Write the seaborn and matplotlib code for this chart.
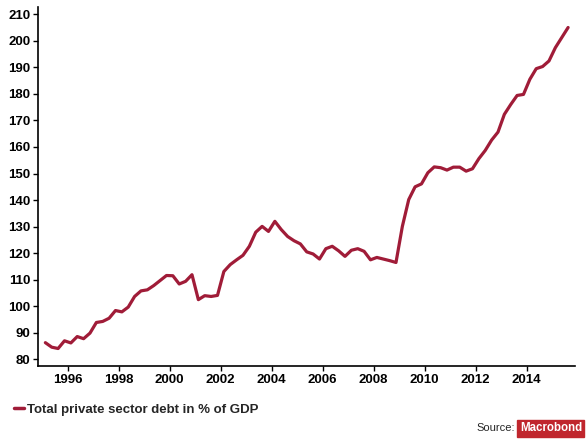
import numpy as np
import pandas as pd
import matplotlib
matplotlib.use("Agg")
import matplotlib.pyplot as plt
import seaborn as sns

# Quarterly, 1995Q1 .. 2015Q3 (decimal years at mid-quarter)
start_year = 1995.125
debt_pct_gdp = [
    86.3, 84.6, 84.1, 87.0, 86.2, 88.6, 87.8, 89.9, 93.9, 94.3,
    95.5, 98.4, 97.9, 99.7, 103.7, 105.8, 106.2, 107.8, 109.7, 111.6,
    111.5, 108.4, 109.4, 111.9, 102.5, 104.0, 103.7, 104.1, 113.1, 115.7,
    117.5, 119.2, 122.6, 127.9, 130.1, 128.2, 132.0, 128.9, 126.3, 124.7,
    123.5, 120.5, 119.7, 117.8, 121.7, 122.6, 120.9, 118.8, 121.1, 121.7,
    120.7, 117.5, 118.4, 117.8, 117.2, 116.5, 130.1, 140.2, 145.0, 146.1,
    150.3, 152.5, 152.2, 151.3, 152.4, 152.4, 150.9, 151.8, 155.6, 158.7,
    162.6, 165.6, 172.3, 176.0, 179.4, 179.8, 185.5, 189.5, 190.3, 192.4,
    197.4, 201.2, 205.0,
]
years = [start_year + 0.25 * i for i in range(len(debt_pct_gdp))]
x_ticks = [1996, 1998, 2000, 2002, 2004, 2006, 2008, 2010, 2012, 2014]
y_ticks = list(range(80, 211, 10))

label = "Total private sector debt in % of GDP"
line_color = "#A01C38"

df = pd.DataFrame({"year": years, "value": debt_pct_gdp})

sns.set_style("ticks")
plt.rcParams["font.family"] = ["Liberation Sans", "DejaVu Sans"]

fig = plt.figure(figsize=(5.86, 4.41), dpi=100)
ax = fig.add_axes([0.065, 0.170, 0.916, 0.814])

sns.lineplot(data=df, x="year", y="value", ax=ax, color=line_color,
             linewidth=2.3, label=label, legend=False)

ax.set_xlim(1994.84, 2015.89)
ax.set_ylim(77.5, 212.7)
ax.set_xticks(x_ticks)
ax.set_yticks(y_ticks)
ax.set_xlabel("")
ax.set_ylabel("")

sns.despine(ax=ax, top=True, right=True)
for side in ["left", "bottom"]:
    ax.spines[side].set_linewidth(1.2)
    ax.spines[side].set_color("black")
ax.tick_params(axis="both", direction="out", length=3.5, width=1,
               colors="black", labelsize=9.5, pad=2)
for t in ax.get_xticklabels() + ax.get_yticklabels():
    t.set_fontweight("bold")

# legend below the plot
leg = fig.legend(loc="lower left", bbox_to_anchor=(0.004, 0.03),
                 frameon=False, handlelength=0.75, handletextpad=0.25,
                 prop={"weight": "bold", "size": 9.5})
for h in leg.get_lines():
    h.set_linewidth(2.5)

# source note
fig.text(0.878, 0.022, "Source:", fontsize=8, ha="right", va="baseline")
fig.text(0.993, 0.022, "Macrobond", fontsize=8.3, fontweight="bold",
         color="white", ha="right", va="baseline",
         bbox=dict(boxstyle="square,pad=0.22", fc="#C0262D", ec="#C0262D"))

fig.savefig("out.png", dpi=100)
